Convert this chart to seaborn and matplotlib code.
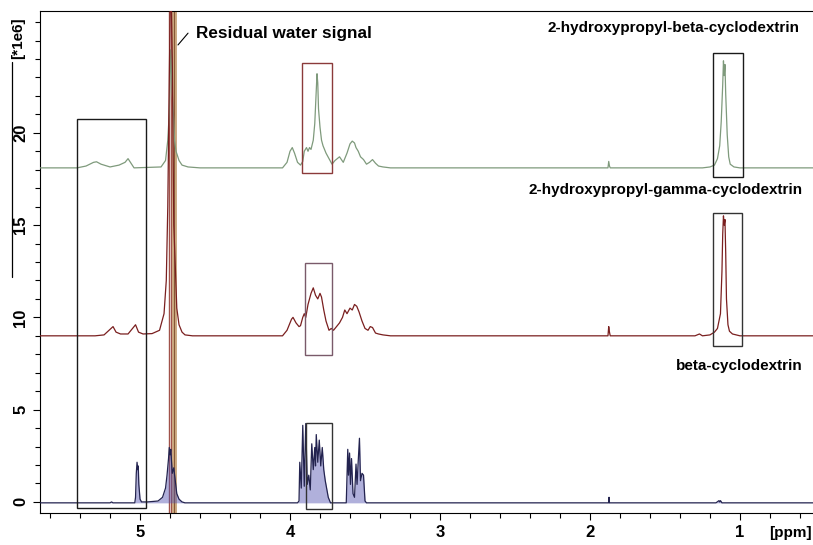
import numpy as np
import pandas as pd
import seaborn as sns
import matplotlib.pyplot as plt
from matplotlib.patches import Rectangle
from matplotlib.ticker import MultipleLocator, FixedLocator

# --- spectra (ppm, intensity above own baseline, *1e6) ---
hpb_ppm = [5.67, 5.42, 5.36, 5.31, 5.29, 5.26, 5.20, 5.14, 5.10, 5.08, 5.06, 5.04,
           4.86, 4.83, 4.815, 4.805, 4.795, 4.785, 4.775, 4.77, 4.76, 4.74, 4.72, 4.68, 4.60,
           4.05, 4.02, 4.00, 3.985, 3.97, 3.95, 3.93, 3.915, 3.905, 3.89, 3.88, 3.87, 3.86,
           3.845, 3.835, 3.825, 3.82, 3.815, 3.81, 3.80, 3.79, 3.78, 3.76, 3.74, 3.72,
           3.70, 3.67, 3.645, 3.62, 3.60, 3.585, 3.57, 3.56, 3.545, 3.53, 3.51, 3.49,
           3.47, 3.45, 3.43, 3.41, 3.38, 3.33,
           1.90, 1.88, 1.875, 1.87, 1.865, 1.85,
           1.25, 1.20, 1.17, 1.15, 1.135, 1.125, 1.115, 1.110, 1.105, 1.100, 1.095,
           1.085, 1.075, 1.065, 1.04, 1.0, 0.5]
hpb_int = [0, 0, 0.1, 0.3, 0.33, 0.2, 0.05, 0.15, 0.3, 0.5, 0.25, 0.0,
           0.05, 0.4, 1.5, 3.0, 6.4, 4.0, 2.5, 1.5, 0.9, 0.4, 0.15, 0.05, 0,
           0, 0.3, 0.9, 1.1, 0.8, 0.3, 0.15, 0.35, 0.9, 1.1, 0.9, 1.1, 1.0,
           1.5, 2.4, 4.2, 5.1, 4.6, 3.2, 2.2, 1.5, 1.2, 0.8, 0.5, 0.2,
           0.4, 0.6, 0.3, 0.8, 1.3, 1.45, 1.35, 1.1, 0.9, 0.6, 0.45, 0.2,
           0.3, 0.45, 0.25, 0.1, 0.05, 0,
           0, 0, 0.35, 0.1, 0, 0,
           0, 0.05, 0.15, 0.5, 1.2, 2.5, 4.5, 5.8, 5.0, 5.6, 4.0,
           1.8, 0.6, 0.2, 0.05, 0, 0]

hpg_ppm = [5.67, 5.40, 5.30, 5.24, 5.20, 5.18, 5.16, 5.13, 5.08, 5.05, 5.03, 5.01, 4.98, 4.92,
           4.87, 4.84, 4.825, 4.815, 4.805, 4.795, 4.785, 4.775, 4.765, 4.755, 4.74, 4.72, 4.70, 4.65,
           4.05, 4.02, 3.99, 3.98, 3.96, 3.94, 3.93, 3.915, 3.905, 3.895, 3.88, 3.86, 3.845,
           3.83, 3.815, 3.80, 3.79, 3.775, 3.76, 3.74, 3.725, 3.71, 3.69, 3.67, 3.65, 3.635,
           3.62, 3.60, 3.585, 3.57, 3.555, 3.54, 3.52, 3.50, 3.48, 3.465, 3.45, 3.43, 3.41, 3.38, 3.33,
           1.90, 1.88, 1.875, 1.87, 1.865, 1.85,
           1.30, 1.27, 1.25, 1.20, 1.17, 1.15, 1.13, 1.12, 1.115, 1.11, 1.105, 1.10, 1.095,
           1.09, 1.08, 1.07, 1.05, 1.0, 0.5]
hpg_int = [0, 0, 0, 0.05, 0.35, 0.5, 0.2, 0.1, 0.1, 0.4, 0.6, 0.2, 0.1, 0.12,
           0.3, 1.2, 3.0, 7.0, 14.0, 20.0, 15.0, 6.0, 3.8, 1.5, 0.6, 0.2, 0.05, 0,
           0, 0.3, 0.9, 1.0, 0.7, 0.5, 0.55, 1.0, 1.2, 1.0, 1.7, 2.3, 2.6,
           2.2, 2.0, 2.3, 2.1, 1.4, 0.8, 0.3, 0.4, 0.3, 0.5, 0.7, 1.0, 1.4,
           1.2, 1.5, 1.4, 1.7, 1.6, 1.3, 0.8, 0.4, 0.3, 0.5, 0.45, 0.15, 0.1, 0.05, 0,
           0, 0, 0.5, 0.2, 0, 0,
           0, 0.1, 0, 0.05, 0.2, 0.4, 1.2, 3.5, 5.5, 6.5, 6.0, 6.3, 4.5,
           2.0, 0.6, 0.25, 0.1, 0, 0]

bcd_ppm = [5.67, 5.20, 5.19, 5.18, 5.035, 5.03, 5.025, 5.02, 5.015, 5.012, 5.008, 5.0, 4.99,
           4.95, 4.88, 4.85, 4.83, 4.82, 4.81, 4.805, 4.80, 4.795, 4.785, 4.775, 4.765, 4.755,
           4.74, 4.72, 4.70,
           3.95, 3.94, 3.935, 3.925, 3.915, 3.905, 3.895, 3.885, 3.875, 3.865, 3.855, 3.845,
           3.835, 3.83, 3.825, 3.815, 3.805, 3.795, 3.785, 3.775, 3.765, 3.745, 3.73,
           3.625, 3.615, 3.61, 3.603, 3.597, 3.59, 3.58, 3.57, 3.56, 3.553, 3.545, 3.537,
           3.53, 3.52, 3.51, 3.50, 3.49,
           1.90, 1.876, 1.873, 1.87, 1.16, 1.14, 1.135, 1.13, 1.12, 0.5]
bcd_int = [0, 0, 0.05, 0, 0, 0.3, 1.6, 2.2, 1.8, 2.0, 1.0, 0.2, 0.05,
           0.05, 0.1, 0.3, 0.8, 1.5, 2.4, 3.0, 2.6, 2.9, 1.6, 1.9, 1.2, 0.5,
           0.2, 0.05, 0,
           0, 0.1, 2.2, 0.8, 4.2, 0.9, 4.3, 1.0, 1.5, 0.7, 3.2, 1.8,
           3.0, 2.0, 3.7, 2.2, 3.4, 2.0, 3.0, 1.8, 1.2, 0.3, 0,
           0, 2.9, 1.5, 2.7, 1.0, 2.4, 0.5, 0.3, 2.1, 1.0, 2.3, 3.5,
           1.2, 1.6, 1.5, 0.1, 0,
           0, 0, 0.3, 0, 0, 0.12, 0.05, 0.12, 0, 0]

baselines = [18.1, 9.0, -0.05]
names = ['2-hydroxypropyl-beta-cyclodextrin', '2-hydroxypropyl-gamma-cyclodextrin', 'beta-cyclodextrin']
colors = ['#7f9a7c', '#7a1f1f', '#23234f']

# residual water signal (off scale)
water_ppm = [4.806, 4.794, 4.774]
water_colors = ['#a0524a', '#a0524a', '#c9a57c']
water_widths = [1.0, 1.0, 3.5]

# boxes: (ppm left, ppm right, low, high)
box_ppm_left = [5.418, 3.918, 3.90, 3.893, 1.182, 1.178]
box_ppm_right = [4.96, 3.72, 3.72, 3.722, 0.982, 0.989]
box_low = [-0.33, 17.8, 7.96, -0.4, 17.62, 8.47]
box_high = [20.75, 23.76, 12.93, 4.3, 24.34, 15.67]
box_colors = ['#1a1a1a', '#8b3a3a', '#7a5a6a', '#333333', '#1a1a1a', '#333333']

y_major = [0, 5, 10, 15, 20]

sns.set_style('ticks', {'axes.edgecolor': 'black', 'text.color': 'black',
                        'xtick.color': 'black', 'ytick.color': 'black'})
plt.rcParams['font.family'] = ['Liberation Sans', 'DejaVu Sans']
plt.rcParams['font.weight'] = 'bold'

fig = plt.figure(figsize=(8.13, 5.45), dpi=100)
ax = fig.add_axes([40 / 813, 32 / 545, 773 / 813, 502 / 545])

for w, c, lw in zip(water_ppm, water_colors, water_widths):
    ax.axvline(w, color=c, lw=lw, zorder=1)
ax.axvline(water_ppm[2], color='#7a4a2a', lw=0.6, zorder=1)

traces = [(hpb_ppm, hpb_int), (hpg_ppm, hpg_int), (bcd_ppm, bcd_int)]
for (p, v), b, c in zip(traces, baselines, colors):
    df = pd.DataFrame({'ppm': p, 'val': np.array(v) + b})
    if c == colors[2]:
        ax.fill_between(df['ppm'], b, df['val'], color='#5050b0', alpha=0.45, lw=0, zorder=2)
    sns.lineplot(data=df, x='ppm', y='val', sort=False, estimator=None,
                 color=c, lw=0.9, ax=ax, zorder=3)

for x0, x1, y0, y1, c in zip(box_ppm_left, box_ppm_right, box_low, box_high, box_colors):
    ax.add_patch(Rectangle((x1, y0), x0 - x1, y1 - y0, fill=False, ec=c, lw=1.0, zorder=4))

ax.set_xlim(5.667, 0.513)
ax.set_ylim(-0.6, 26.6)
ax.xaxis.set_major_locator(MultipleLocator(1))
ax.xaxis.set_minor_locator(MultipleLocator(0.2))
ax.yaxis.set_major_locator(FixedLocator(y_major))
ax.yaxis.set_minor_locator(MultipleLocator(1))
ax.tick_params(which='major', length=5, width=0.8, labelsize=12)
ax.tick_params(which='minor', length=3.5, width=0.8)
for lab in ax.get_yticklabels():
    lab.set_rotation(90)
    lab.set_va('center')
ax.set_xlabel('')
ax.set_ylabel('')
ax.spines['right'].set_visible(False)
for s in ['left', 'bottom', 'top']:
    ax.spines[s].set_linewidth(0.8)

ax.text(0.6, 25.7, names[0], ha='right', va='center', fontsize=11, fontweight='bold')
ax.text(0.58, 16.9, names[1], ha='right', va='center', fontsize=11, fontweight='bold')
ax.text(0.58, 7.37, names[2], ha='right', va='center', fontsize=11, fontweight='bold')
ax.text(4.627, 25.4, 'Residual water signal', ha='left', va='center', fontsize=12.3, fontweight='bold')
ax.plot([4.747, 4.68], [24.76, 25.4], color='black', lw=0.8)

fig.text(790 / 813, 1 - 533 / 545, '[ppm]', ha='center', va='center', fontsize=11, fontweight='bold')
fig.text(18 / 813, 1 - 38 / 545, '[*1e6]', ha='center', va='center', rotation=90,
         fontsize=11, fontweight='bold')
fig.add_artist(plt.Line2D([12 / 813, 12 / 813], [1 - 62 / 545, 1 - 277 / 545], color='black', lw=0.9))

fig.savefig('out.png', dpi=100)
